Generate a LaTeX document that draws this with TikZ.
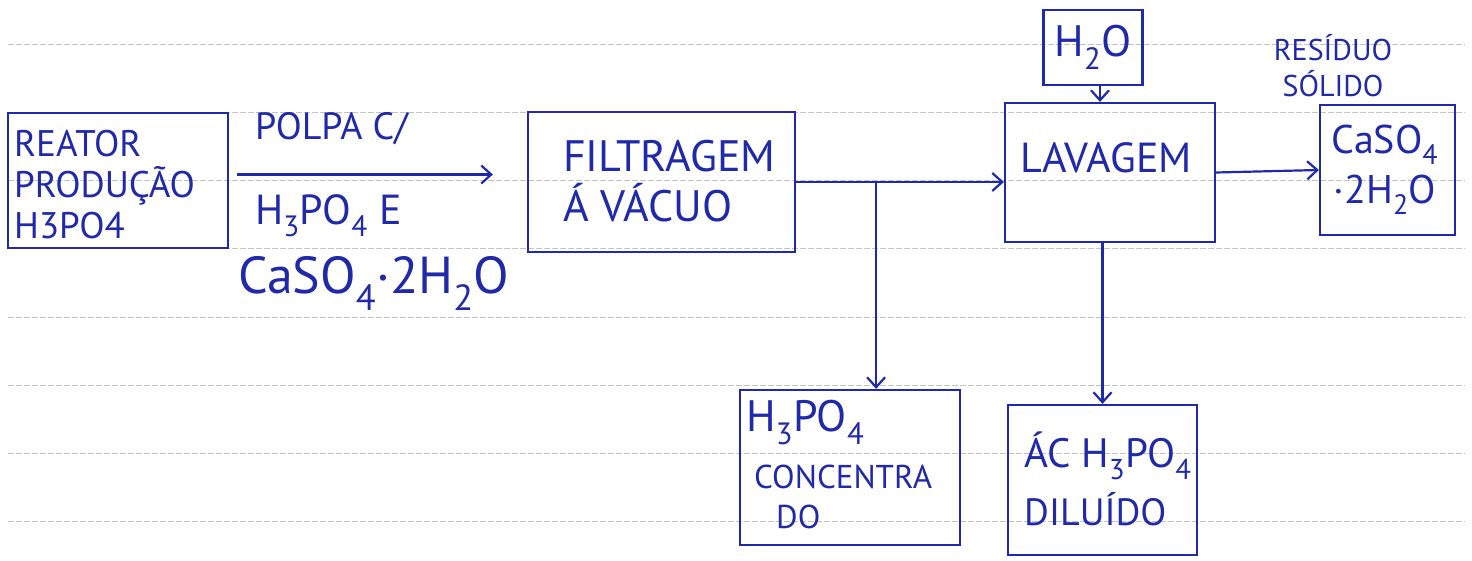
\documentclass[tikz,border=0pt]{standalone}
\usepackage{fontspec}
\setmainfont{PT Sans}
\usetikzlibrary{arrows.meta}
\definecolor{ink}{RGB}{32,42,168}
\definecolor{rulegray}{RGB}{195,195,195}
\begin{document}
\begin{tikzpicture}[x=1pt,y=-1pt,
  box/.style={draw=ink, line width=2.2pt, inner sep=0pt},
  txt/.style={text=ink, font=\fontsize{40}{46}\selectfont, align=left, inner sep=0pt},
  fs/.style={font=\fontsize{#1}{#1*1.15}\selectfont},
  arr/.style={draw=ink, line width=2.2pt, -{Straight Barb[length=10pt,width=18pt,line width=2.2pt]}},
  ruling/.style={draw=rulegray, line width=1pt, dash pattern=on 6pt off 2pt}]
\useasboundingbox (0,0) rectangle (1472,561);
\fill[white] (0,0) rectangle (1472,561);
\foreach \y in {45,113,181,249,317,385,453,521} \draw[ruling] (8,\y) -- (1465,\y);

% reactor
\node[box, minimum width=220pt, minimum height=135pt] (reac) at (118,180.5) {};
\node[txt, font=\fontsize{37}{41}\selectfont, anchor=north west] (reactxt) at (14,130) {REATOR\\PRODUÇÃO\\H3PO4};

% stream labels
\node[txt, font=\fontsize{38}{44}\selectfont, anchor=north west] (polpa) at (255,112) {POLPA C/};
\node[txt, font=\fontsize{42}{44}\selectfont, anchor=north west] (h3po4e) at (255,194) {H\textsubscript{3}PO\textsubscript{4} E};
\node[txt, font=\fontsize{52}{60}\selectfont, anchor=north west] (caso) at (238,256) {CaSO\textsubscript{4}·2H\textsubscript{2}O};

% filtration
\node[box, minimum width=267pt, minimum height=140pt] (filt) at (661.5,182) {};
\node[txt, font=\fontsize{44}{50}\selectfont, anchor=north west] (filtt) at (563,140) {FILTRAGEM\\Á VÁCUO};

% washing
\node[box, minimum width=210pt, minimum height=139pt] (lav) at (1110,172.5) {};
\node[txt, font=\fontsize{42}{46}\selectfont, anchor=north west] (lavt) at (1020,142) {LAVAGEM};

% water
\node[box, txt, font=\fontsize{44}{46}\selectfont, minimum width=99pt, minimum height=75pt] (h2o) at (1093,47.5) {H\textsubscript{2}O};

% solid residue
\node[box, minimum width=135pt, minimum height=130pt] (res) at (1387.5,170) {};
\node[txt, font=\fontsize{40}{50}\selectfont, align=center] (rest2) at (1385,170) {CaSO\textsubscript{4}\\·2H\textsubscript{2}O};
\node[txt, font=\fontsize{30}{36}\selectfont, align=center] (rest) at (1333,66) {RESÍDUO\\SÓLIDO};

% concentrated acid
\node[box, minimum width=220pt, minimum height=155pt] (conc) at (850,467.5) {};
\node[txt, font=\fontsize{44}{48}\selectfont, anchor=north west] (conct1) at (746,400) {H\textsubscript{3}PO\textsubscript{4}};
\node[txt, font=\fontsize{33}{40}\selectfont, anchor=north west] (conct2) at (754,465) {CONCENTRA\\\hspace*{22pt}DO};

% diluted acid
\node[box, minimum width=189pt, minimum height=150pt] (dil) at (1102.5,480) {};
\node[txt, font=\fontsize{41}{48}\selectfont, anchor=north west] (dilt1) at (1024,432) {ÁC H\textsubscript{3}PO\textsubscript{4}};
\node[txt, font=\fontsize{38}{48}\selectfont, anchor=north west] (dilt2) at (1024,492) {DILUÍDO};

% connectors
\draw[arr, shorten <=8pt, shorten >=34pt] ([yshift=6pt]reac.east) -- ([yshift=6pt]reac.east -| filt.west);
\draw[arr] (filt.east) -- (filt.east -| lav.west);
\coordinate (br) at ([xshift=80pt]filt.east);
\draw[arr] (br) -- (br |- conc.north);
\draw[arr] ([xshift=7pt]h2o.south) -- ([xshift=7pt]h2o.south |- lav.north);
\draw[arr] (lav.east) -- (res.west);
\draw[arr] (dil.north |- lav.south) -- (dil.north);
\end{tikzpicture}
\end{document}
